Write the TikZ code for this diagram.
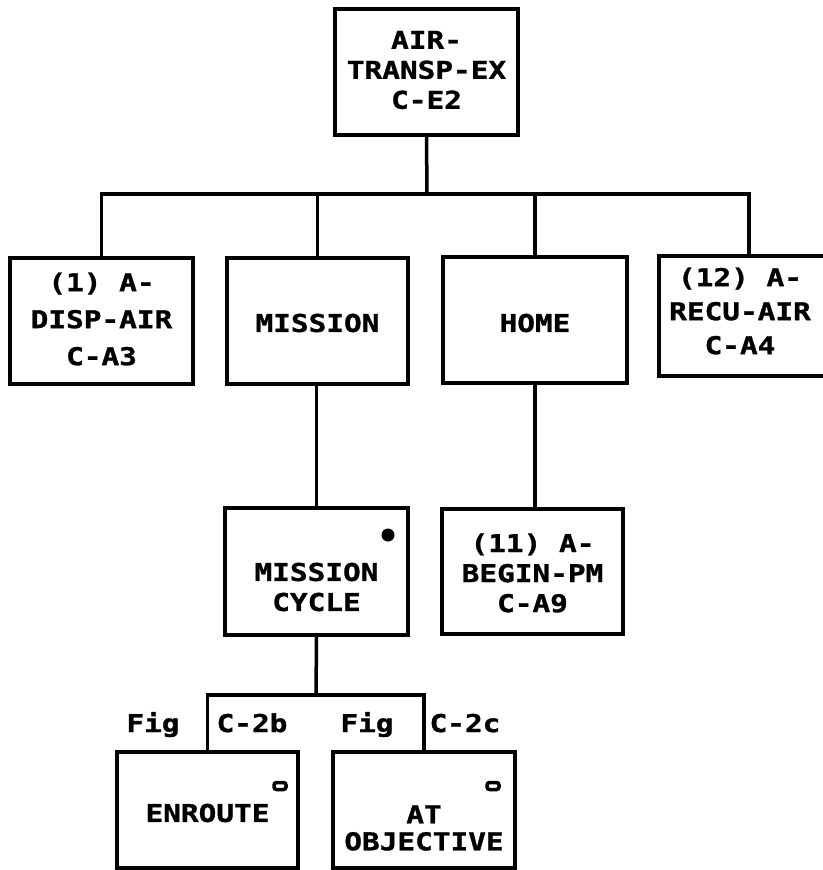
\documentclass[tikz,border=0pt]{standalone}
\usepackage{fontspec}
\newfontfamily\plotfont[FakeStretch=1.2,BoldFeatures={FakeBold=1.2}]{DejaVu Sans Mono}
\tikzset{
  box/.style={draw, line width=4pt, rectangle, inner sep=0pt},
  lbl/.style={font=\plotfont\bfseries\fontsize{24.5}{#1}\selectfont, align=center, inner sep=0pt},
  lbl/.default=31,
  link/.style={line width=3.5pt},
  ovalmark/.style={draw, line width=3.5pt, rounded corners=2.5pt, minimum width=12pt, minimum height=7pt, inner sep=0pt},
}
\begin{document}
\begin{tikzpicture}[x=1pt,y=-1pt]
\useasboundingbox (0,0) rectangle (822,870);
% boxes
\node[box, minimum width=183pt, minimum height=126pt] (top) at (426.5,72) {};
\node[box, minimum width=183pt, minimum height=126pt] (disp) at (101.5,321) {};
\node[box, minimum width=181pt, minimum height=126pt] (mission) at (317.5,321) {};
\node[box, minimum width=184pt, minimum height=126pt] (home) at (535,320) {};
\node[box, minimum width=166pt, minimum height=120pt] (recv) at (742,316) {};
\node[box, minimum width=183pt, minimum height=127pt] (mc) at (316.5,571.5) {};
\node[box, minimum width=181pt, minimum height=125pt] (begin) at (532.5,571.5) {};
\node[box, minimum width=181pt, minimum height=116pt] (enr) at (207.5,810) {};
\node[box, minimum width=182pt, minimum height=116pt] (atobj) at (424,810) {};
% texts
\node[lbl=30] (toptxt) at (426.5,70) {AIR-\\TRANSP-EX\\C-E2};
\node[lbl=37] (disptxt) at (101.5,319) {(1) A-\\DISP-AIR\\C-A3};
\node[lbl] (missiontxt) at (317.5,323) {MISSION};
\node[lbl] (hometxt) at (535,323) {HOME};
\node[lbl=34] (recvtxt) at (740,311) {(12) A-\\RECU-AIR\\C-A4};
\node[lbl=30] (mctxt) at (316.5,587) {MISSION\\CYCLE};
\node[lbl=30] (begintxt) at (532.5,573) {(11) A-\\BEGIN-PM\\C-A9};
\node[lbl] (enrtxt) at (207.5,813) {ENROUTE};
\node[lbl=27] (atobjtxt) at (424,828) {AT\\OBJECTIVE};
% markers
\node[circle, fill, minimum size=13pt, inner sep=0pt] (mcdot) at (388,535) {};
\node[ovalmark] (enrmark) at (280,786) {};
\node[ovalmark] (atobjmark) at (493,786) {};
% figure labels
\node[lbl, anchor=base] (fig1) at (153,732) {Fig};
\node[lbl, anchor=base] (c2b) at (252,732) {C-2b};
\node[lbl, anchor=base] (fig2) at (367,732) {Fig};
\node[lbl, anchor=base] (c2c) at (465,732) {C-2c};
% connectors
\coordinate (j1) at (427,194);
\draw[link] (top.south) -- (j1);
\draw[link] (disp.north) |- (j1);
\draw[link] ([xshift=7pt]recv.north) |- (j1);
\draw[link] (mission.north) -- (mission.north |- j1);
\draw[link] (home.north) -- (home.north |- j1);
\draw[link] (mc.north |- mission.south) -- (mc.north);
\draw[link] (home.south) -- (home.south |- begin.north);
\coordinate (j2) at (316,695);
\draw[link] (mc.south) -- (j2);
\draw[link] (enr.north) |- (j2);
\draw[link] (atobj.north) |- (j2);
\end{tikzpicture}
\end{document}
